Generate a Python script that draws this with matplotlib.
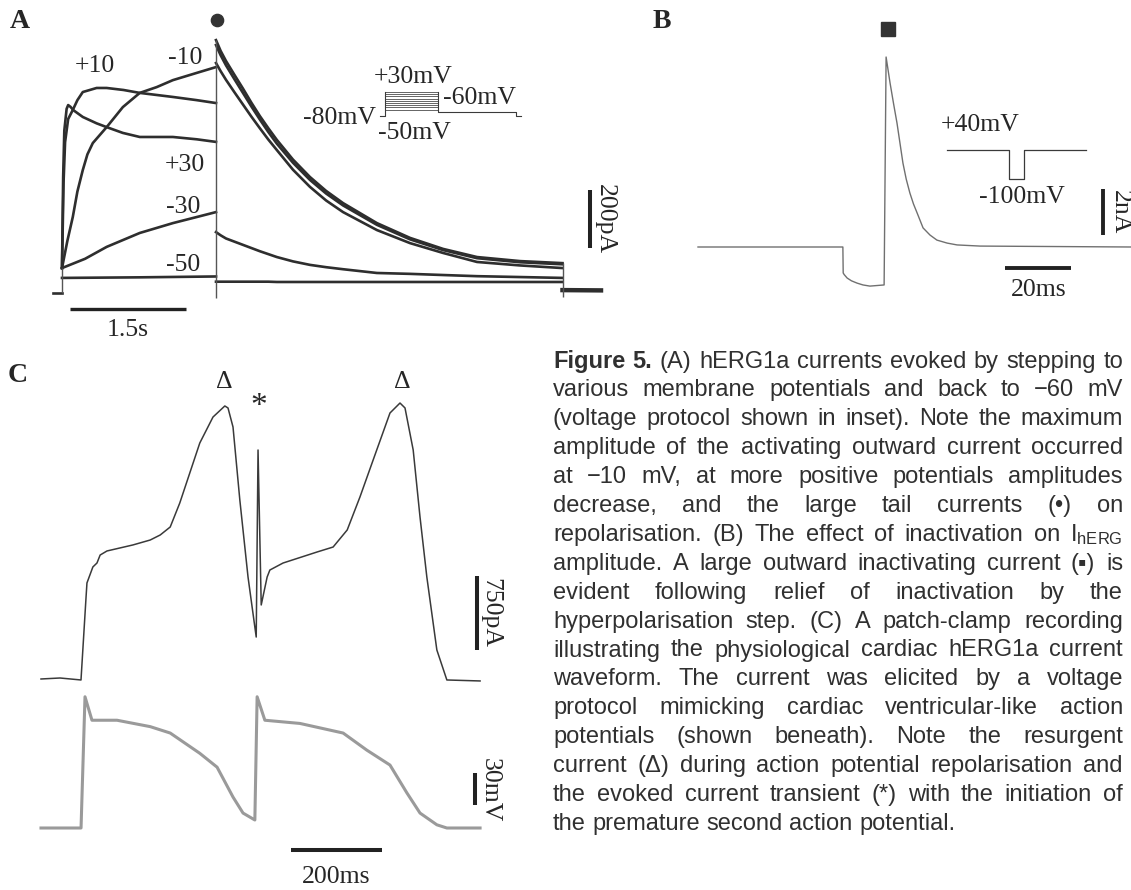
import numpy as np
import matplotlib
matplotlib.use("Agg")
import matplotlib.pyplot as plt

W, H = 1131, 890
plt.rcParams['mathtext.fontset'] = 'custom'
plt.rcParams['mathtext.rm'] = 'Liberation Sans'
plt.rcParams['mathtext.it'] = 'Liberation Sans:italic'
plt.rcParams['mathtext.bf'] = 'Liberation Sans:bold'

SERIF = ['Liberation Serif', 'DejaVu Serif']
SANS = ['Liberation Sans', 'DejaVu Sans']
INK = '#262626'

# ---------------- Panel A data (time s, current pA) ----------------
A_hold_t = [-0.12, 0.0]
A_hold_I = [0, 0]

A_act_t_m50 = [0.0, 1.0, 2.0]
A_act_I_m50 = [52, 54, 57]
A_act_t_m30 = [0.0, 0.3, 0.58, 1.01, 1.44, 1.75, 2.0]
A_act_I_m30 = [86, 118, 159, 207, 241, 262, 279]
A_act_t_m10 = [0.0, 0.07, 0.14, 0.20, 0.27, 0.33, 0.40, 0.58, 0.79, 1.01, 1.23, 1.44, 1.75, 2.0]
A_act_I_m10 = [86, 180, 262, 350, 424, 478, 517, 572, 641, 690, 710, 734, 759, 779]
A_act_t_p10 = [0.0, 0.02, 0.04, 0.08, 0.14, 0.20, 0.27, 0.45, 0.58, 0.8, 1.01, 1.44, 1.75, 2.0]
A_act_I_p10 = [86, 380, 520, 600, 631, 665, 693, 707, 707, 700, 690, 676, 665, 655]
A_act_t_p30 = [0.0, 0.015, 0.03, 0.06, 0.08, 0.11, 0.15, 0.27, 0.45, 0.58, 0.79, 1.01, 1.44, 1.75, 2.0]
A_act_I_p30 = [86, 400, 560, 635, 648, 642, 630, 607, 585, 572, 552, 538, 538, 530, 521]

A_tail_t = [2.0, 2.06, 2.13, 2.24, 2.35, 2.46, 2.57, 2.68, 2.79, 3.0, 3.22, 3.43, 3.65,
            4.09, 4.52, 4.95, 5.39, 5.95, 6.5]
A_tail_m10 = [872, 835, 800, 752, 705, 656, 610, 568, 528, 460, 400, 352, 310,
              241, 190, 152, 124, 110, 103]
A_tail_p10 = [855, 820, 785, 737, 690, 643, 598, 555, 515, 449, 390, 343, 302,
              235, 185, 148, 120, 106, 99]
A_tail_p30 = [793, 765, 735, 692, 650, 608, 568, 529, 493, 425, 366, 319, 279,
              217, 172, 138, 107, 95, 86]
A_tail_m30 = [210, 199, 188, 177, 166, 155, 144, 134, 124, 109, 97, 89, 82,
              69, 66, 62, 58, 55, 52]
A_tail_m50 = [39, 39, 39, 39, 39, 39, 39, 39, 38, 38, 38, 38, 38,
              38, 38, 38, 38, 38, 38]

A_end_t = [6.5, 7.0]
A_end_I = [10, 9]

A_edges_t = [0.0, 2.0, 6.5]
A_edges_lo = [0, -17, -14]
A_edges_hi = [86, 872, 103]

A_labels = ['+10', '-10', '+30', '-30', '-50']
A_label_t = [0.43, 1.60, 1.60, 1.57, 1.57]
A_label_I = [783, 810, 441, 297, 97]

A_prot_t = [0.0, 0.25, 2.75, 6.4, 6.65]
A_prot_hold, A_prot_tail = -80, -60
A_prot_steps = [-50, -40, -30, -20, -10, 0, 10, 20, 30]

# ---------------- Panel B data (time ms, current nA) ----------------
B_t = [0, 43.9, 44.0, 44.3, 45.2, 46.5, 48.2, 50.0, 52.1, 56.4, 57.0, 58.2,
       59.3, 60.3, 61.2, 62.1, 63.1, 64.2, 65.3, 66.4, 68.2, 70.3, 72.4, 75.5,
       78.5, 85.5, 131.2]
B_I = [0, 0, -1.13, -1.20, -1.35, -1.47, -1.57, -1.65, -1.70, -1.65, 8.26, 7.13,
       6.20, 5.39, 4.52, 3.65, 2.95, 2.35, 1.87, 1.48, 0.83, 0.52, 0.30, 0.17,
       0.09, 0.04, 0]
B_prot_t = [0, 19, 19, 23.6, 23.6, 42.5]
B_prot_V = [40, 40, -100, -100, 40, 40]

# ---------------- Panel C data (time ms, current pA / voltage mV) -------
C_t = [0, 41.8, 87.9, 98.9, 101, 114, 123, 130, 145, 202, 240, 262, 284, 305,
       327, 349, 378, 404, 411, 422, 437, 455, 473, 477, 484, 497, 503, 532,
       607, 642, 673, 701, 730, 767, 789, 800, 818, 833, 848, 870, 892, 965]
C_I = [-10, 0, -20, 811, 963, 1125, 1165, 1246, 1287, 1348, 1398, 1449, 1530,
       1773, 2077, 2381, 2644, 2756, 2736, 2543, 1803, 1023, 415, 2310, 740,
       1023, 1094, 1165, 1277, 1327, 1500, 1834, 2209, 2685, 2786, 2736, 2310,
       1631, 1023, 284, -20, -30]
C_vt = [0, 88, 96.7, 112, 167, 240, 284, 349, 387, 422, 444, 470, 475, 492,
        569, 664, 716, 767, 804, 833, 870, 892, 965]
C_V = [0, 0, 123, 101, 101, 95, 89, 70, 57, 29, 14, 7.5, 123, 101, 98, 89, 73,
       59, 33, 14, 3, 0, 0]

CAPTION = [
    "Figure 5. (A) hERG1a currents evoked by stepping to",
    "various membrane potentials and back to \u221260 mV",
    "(voltage protocol shown in inset). Note the maximum",
    "amplitude of the activating outward current occurred",
    "at \u221210 mV, at more positive potentials amplitudes",
    "decrease, and the large tail currents (\u2022) on",
    "repolarisation. (B) The effect of inactivation on I$_{\\mathrm{hERG}}$",
    "amplitude. A large outward inactivating current (\u25aa) is",
    "evident following relief of inactivation by the",
    "hyperpolarisation step. (C) A patch-clamp recording",
    "illustrating the physiological cardiac hERG1a current",
    "waveform. The current was elicited by a voltage",
    "protocol mimicking cardiac ventricular-like action",
    "potentials (shown beneath). Note the resurgent",
    "current (\u0394) during action potential repolarisation and",
    "the evoked current transient (*) with the initiation of",
    "the premature second action potential.",
]

fig = plt.figure(figsize=(W / 100, H / 100), dpi=100)
fig.patch.set_facecolor('white')


def px_axes(x0, y0, x1, y1, xo, xs, yo, ys):
    ax = fig.add_axes([x0 / W, 1 - y1 / H, (x1 - x0) / W, (y1 - y0) / H])
    ax.set_xlim((x0 - xo) / xs, (x1 - xo) / xs)
    ax.set_ylim((yo - y1) / ys, (yo - y0) / ys)
    ax.set_axis_off()
    return ax


def ftext(x, y, s, **kw):
    kw.setdefault('family', SERIF)
    kw.setdefault('fontsize', 18.5)
    kw.setdefault('color', INK)
    kw.setdefault('ha', 'center')
    kw.setdefault('va', 'center')
    return fig.text(x / W, 1 - y / H, s, **kw)


# ================= Panel A =================
axA = px_axes(40, 30, 625, 345, 62, 77, 293, 0.29)
trc = dict(color='#2e2e2e', lw=1.9, solid_joinstyle='round')
axA.plot(A_hold_t, A_hold_I, **trc)
for tt, ii in [(A_act_t_m50, A_act_I_m50), (A_act_t_m30, A_act_I_m30),
               (A_act_t_m10, A_act_I_m10), (A_act_t_p10, A_act_I_p10),
               (A_act_t_p30, A_act_I_p30)]:
    axA.plot(tt, ii, **trc)
for ii in [A_tail_m10, A_tail_p10, A_tail_p30, A_tail_m30, A_tail_m50]:
    axA.plot(A_tail_t, ii, **trc)
axA.plot(A_end_t, A_end_I, color='#2e2e2e', lw=3.2)
axA.vlines(A_edges_t, A_edges_lo, A_edges_hi, color='#555555', lw=1.0)
for lab, tx, iy in zip(A_labels, A_label_t, A_label_I):
    axA.text(tx, iy, lab, family=SERIF, fontsize=18.5, color=INK,
             ha='center', va='center')
# scale bars
axA.plot([0.104, 1.604], [-55, -55], color='#222222', lw=2.4,
         solid_capstyle='butt')
axA.text(0.854, -128, '1.5s', family=SERIF, fontsize=18.5, color=INK,
         ha='center', va='center')
axA.plot([6.857, 6.857], [155, 355], color='#222222', lw=2.9,
         solid_capstyle='butt')
axA.text(7.05, 255, '200pA', family=SERIF, fontsize=18.5, color=INK,
         ha='center', va='center', rotation=-90)
axA.plot([2.01], [941], 'o', ms=8.8, color='#333333', clip_on=False)

# protocol inset A
axAp = px_axes(370, 80, 530, 125, 380, 21.2, 98.6, 0.218)
pk = dict(color='#3a3a3a', lw=0.8)
for v in A_prot_steps:
    axAp.plot([A_prot_t[1], A_prot_t[2]], [v, v], color='#3a3a3a', lw=0.55)
axAp.plot([A_prot_t[0], A_prot_t[1], A_prot_t[1]],
          [A_prot_hold, A_prot_hold, max(A_prot_steps)], **pk)
axAp.plot([A_prot_t[2], A_prot_t[2], A_prot_t[3], A_prot_t[3], A_prot_t[4]],
          [max(A_prot_steps), A_prot_tail, A_prot_tail, A_prot_hold, A_prot_hold], **pk)
ftext(413, 77, '+30mV')
ftext(479, 98, '-60mV')
ftext(340, 118, '-80mV')
ftext(414, 133, '-50mV')

# ================= Panel B =================
axB = px_axes(690, 40, 1131, 300, 698, 3.3, 247, 23)
axB.plot(B_t, B_I, color='#707070', lw=1.0)
axB.plot([93.0, 113.0], [-0.913, -0.913], color='#222222', lw=2.8,
         solid_capstyle='butt')
axB.text(103.3, -1.87, '20ms', family=SERIF, fontsize=18.5, color=INK,
         ha='center', va='center')
axB.plot([122.7, 122.7], [0.52, 2.52], color='#222222', lw=2.8,
         solid_capstyle='butt')
axB.text(127.9, 1.52, '2nA', family=SERIF, fontsize=18.5, color=INK,
         ha='center', va='center', rotation=-90)
axB.plot([57.6], [9.48], 's', ms=10, color='#333333', clip_on=False)

axBp = px_axes(940, 140, 1090, 185, 947, 3.26, 158.3, 0.207)
axBp.plot(B_prot_t, B_prot_V, color='#3a3a3a', lw=0.9)
ftext(980, 125, '+40mV')
ftext(1022, 197, '-100mV')

# ================= Panel C =================
axC = px_axes(30, 360, 500, 700, 41, 0.455, 678, 0.0987)
axC.plot(C_t, C_I, color='#3a3a3a', lw=1.1)
axC.plot([958, 958], [284, 1034], color='#222222', lw=2.9,
         solid_capstyle='butt')
axC.text(987, 659, '750pA', family=SERIF, fontsize=18.5, color=INK,
         ha='center', va='center', rotation=-90)
axC.text(402, 2999, '\u0394', family=SERIF, fontsize=18.5, color=INK,
         ha='center', va='center')
axC.text(793, 2999, '\u0394', family=SERIF, fontsize=18.5, color=INK,
         ha='center', va='center')
axC.text(479, 2746, '*', family=SERIF, fontsize=24, color=INK,
         ha='center', va='center')

axV = px_axes(30, 680, 500, 890, 41, 0.455, 828, 1.067)
axV.plot(C_vt, C_V, color='#9a9a9a', lw=2.2)
axV.plot([954, 954], [21.6, 51.6], color='#222222', lw=2.9,
         solid_capstyle='butt')
axV.text(987, 35.6, '30mV', family=SERIF, fontsize=18.5, color=INK,
         ha='center', va='center', rotation=-90)
axV.plot([549, 749], [-20.6, -20.6], color='#222222', lw=2.9,
         solid_capstyle='butt')
axV.text(649, -46, '200ms', family=SERIF, fontsize=18.5, color=INK,
         ha='center', va='center')

# panel letters
ftext(20, 21, 'A', fontsize=20, weight='bold')
ftext(662, 22, 'B', fontsize=20, weight='bold')
ftext(18, 375, 'C', fontsize=20, weight='bold')

# ================= Caption (justified) =================
cap_left, cap_right = 553, 1123
cap_base0, cap_step = 367.5, 28.9
cap_size = 17
renderer = fig.canvas.get_renderer()
space_w = cap_size * 100 / 72 * 0.278
for i, line in enumerate(CAPTION):
    words = line.split(' ')
    y = cap_base0 + i * cap_step
    txts = []
    for j, w in enumerate(words):
        bold = (i == 0 and j < 2)
        t = fig.text(0, 1 - y / H, w, fontsize=cap_size, family=SANS,
                     weight='bold' if bold else 'normal', color='#303030',
                     ha='left', va='baseline')
        txts.append(t)
    widths = [t.get_window_extent(renderer).width for t in txts]
    if i == len(CAPTION) - 1 or len(words) < 2:
        gap = space_w
    else:
        gap = (cap_right - cap_left - sum(widths)) / (len(words) - 1)
    x = cap_left
    for t, wd in zip(txts, widths):
        t.set_x(x / W)
        x += wd + gap

fig.savefig('out.png', dpi=100, facecolor='white')
